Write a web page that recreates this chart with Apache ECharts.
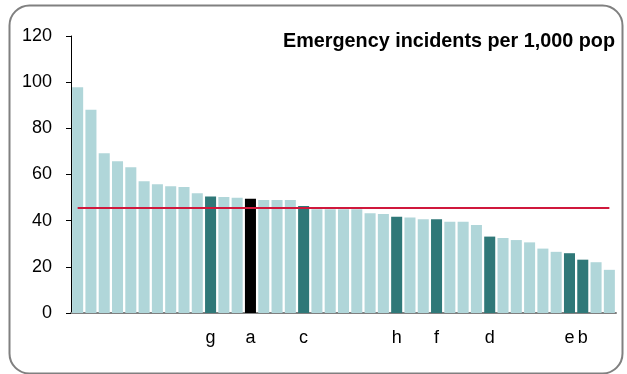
<!DOCTYPE html>
<html>
<head>
<meta charset="utf-8">
<script src="https://cdn.jsdelivr.net/npm/echarts@6/dist/echarts.min.js"></script>
<style>html,body{margin:0;padding:0;background:#fff}#c{width:627px;height:374px}</style>
</head>
<body>
<div id="c"></div>
<script>
const categories = ['','','','','','','','','','','g','','','a','','','','c','','','','','','','h','','','f','','','','d','','','','','','e','b','',''];
const values = [97.8, 88.0, 69.2, 65.7, 63.1, 57.1, 55.8, 54.9, 54.6, 51.9, 50.5, 50.2, 49.9, 49.5, 48.9, 48.9, 48.9, 46.3, 45.0, 45.0, 45.0, 45.0, 43.2, 42.9, 41.7, 41.4, 40.6, 40.6, 39.5, 39.5, 38.1, 33.1, 32.5, 31.6, 30.6, 27.9, 26.5, 25.9, 23.1, 22.0, 18.7];
const highlightKind = ['','','','','','','','','','','dark','','','black','','','','dark','','','','','','','dark','','','dark','','','','dark','','','','','','dark','dark','',''];
const averageValue = 45.7;
const yTicks = [0, 20, 40, 60, 80, 100, 120];
const titleText = 'Emergency incidents per 1,000 pop';

const colors = { light: '#b0d6d9', dark: '#2f7878', black: '#000000', avg: '#d0183c' };

const chart = echarts.init(document.getElementById('c'), null, { renderer: 'canvas' });
chart.setOption({
  animation: false,
  backgroundColor: '#fff',
  textStyle: { fontFamily: 'Liberation Sans, Arial, sans-serif' },
  graphic: [{
    type: 'rect',
    left: 7, top: 3,
    shape: { width: 613, height: 368, r: 20 },
    style: { fill: 'none', stroke: '#808080', lineWidth: 2 },
    silent: true
  }],
  title: {
    text: titleText,
    right: 7, top: 27,
    padding: [5, 5],
    textStyle: { fontSize: 19.8, fontWeight: 'bold', color: '#000', fontFamily: 'Liberation Sans, Arial, sans-serif' }
  },
  grid: { left: 71, right: 11, top: 36, bottom: 61 },
  xAxis: {
    type: 'category',
    data: categories,
    axisLine: { lineStyle: { color: '#808080', width: 2 } },
    axisTick: { show: false },
    axisLabel: { interval: 0, margin: 16, fontSize: 18, color: '#000' }
  },
  yAxis: {
    type: 'value',
    min: yTicks[0], max: yTicks[yTicks.length - 1], interval: 20,
    axisLine: { show: true, lineStyle: { color: '#000', width: 1 } },
    axisTick: { show: true, length: 5, lineStyle: { color: '#000' } },
    splitLine: { show: false },
    axisLabel: { margin: 19, fontSize: 18, color: '#000' }
  },
  series: [{
    type: 'bar',
    barCategoryGap: '17%',
    data: values.map((v, i) => ({
      value: v,
      itemStyle: { color: highlightKind[i] === 'dark' ? colors.dark : highlightKind[i] === 'black' ? colors.black : colors.light }
    })),
    markLine: {
      symbol: 'none',
      silent: true,
      label: { show: false },
      lineStyle: { color: colors.avg, width: 2, type: 'solid' },
      data: [[{ coord: [0, averageValue] }, { coord: [values.length - 1, averageValue] }]]
    }
  }]
});
</script>
</body>
</html>
